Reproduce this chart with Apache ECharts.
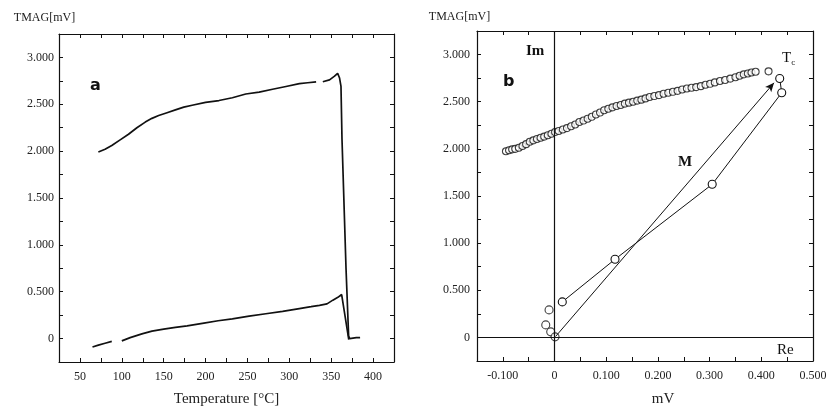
<!DOCTYPE html>
<html>

<head>
	<meta charset="utf-8">
	<title>TMAG</title>
	<script type="text/javascript" src="https://cdn.jsdelivr.net/npm/echarts@6/dist/echarts.min.js"></script>
</head>

<body style="margin:0;background:#fff;">
	<div id="main" style="width: 833px;height:406px;"></div>
	<script type="text/javascript">
		// panel a: TMAG against temperature, upper and lower curve (null = gap in trace)
		var upperT = [72, 80, 88, 98, 108, 118, 128, 136, 144, 154, 164, 174, 184, 200, 216, 232, 248, 264, 280, 296, 312, 322, 332, 336, 340, 348, 354, 357.7, 360, 361.7, 362.9, 367.7, 370.8, 372, 376, 380, 384.5];
		var upperMag = [1.99, 2.02, 2.06, 2.12, 2.18, 2.25, 2.31, 2.35, 2.38, 2.41, 2.44, 2.47, 2.49, 2.52, 2.54, 2.57, 2.61, 2.63, 2.66, 2.69, 2.72, 2.73, 2.74, null, 2.74, 2.76, 2.80, 2.83, 2.78, 2.69, 2.13, 0.75, 0.03, 0.0, 0.005, 0.01, 0.01];
		var lowerT = [65, 72, 80, 88, 94, 100, 110, 124, 136, 150, 164, 178, 198, 215, 232, 252, 272, 292, 312, 326, 336, 345, 352, 358, 362.5, 371];
		var lowerMag = [-0.09, -0.07, -0.05, -0.03, null, -0.025, 0.01, 0.05, 0.08, 0.10, 0.12, 0.135, 0.165, 0.19, 0.21, 0.24, 0.265, 0.29, 0.32, 0.34, 0.355, 0.37, 0.41, 0.44, 0.47, -0.01];

		// panel b: dense circles (Re, Im)
		var denseRe = [-0.094, -0.088, -0.082, -0.076, -0.069, -0.062, -0.055, -0.048, -0.041, -0.034, -0.027, -0.020, -0.013, -0.006, 0.001, 0.008, 0.016, 0.024, 0.032, 0.040, 0.048, 0.056, 0.064, 0.072, 0.080, 0.088, 0.096, 0.104, 0.112, 0.120, 0.128, 0.136, 0.144, 0.152, 0.160, 0.168, 0.176, 0.184, 0.193, 0.202, 0.211, 0.220, 0.229, 0.238, 0.247, 0.256, 0.265, 0.274, 0.283, 0.292, 0.301, 0.310, 0.320, 0.330, 0.340, 0.350, 0.358, 0.366, 0.374, 0.381, 0.389, 0.414];
		var denseIm = [1.975, 1.985, 1.995, 2.000, 2.012, 2.030, 2.050, 2.075, 2.090, 2.105, 2.118, 2.130, 2.145, 2.160, 2.178, 2.190, 2.205, 2.220, 2.240, 2.258, 2.285, 2.300, 2.320, 2.340, 2.365, 2.385, 2.410, 2.425, 2.440, 2.455, 2.465, 2.480, 2.490, 2.500, 2.512, 2.522, 2.535, 2.550, 2.560, 2.570, 2.585, 2.595, 2.605, 2.615, 2.630, 2.640, 2.648, 2.655, 2.665, 2.680, 2.690, 2.705, 2.720, 2.730, 2.745, 2.760, 2.775, 2.790, 2.800, 2.810, 2.818, 2.822];
		// connected circles
		var pathRe = [0.015, 0.117, 0.305, 0.4395, 0.4356];
		var pathIm = [0.377, 0.829, 1.624, 2.595, 2.747];
		// loose circles near the origin
		var looseRe = [-0.0106, -0.017, -0.0074, 0.001];
		var looseIm = [0.292, 0.133, 0.059, 0.006];
		// arrow M from origin to Tc
		var arrowFrom = [0.002, 0.01];
		var arrowTo = [0.4246, 2.70];

		function pairs(xs, ys) {
			return xs.map(function (x, i) {
				return [x, ys[i] === null ? '-' : ys[i]];
			});
		}

		var serif = '"Liberation Serif", "DejaVu Serif", serif';
		var ink = '#111';
		var labelStyle = { fontFamily: serif, fontSize: 12, color: '#222' };

		function magLabel(v) {
			var r = Math.round(v * 1000);
			if (r % 500 !== 0) return '';
			return r === 0 ? '0' : (r / 1000).toFixed(3);
		}

		function tickStyle() {
			return { show: true, inside: true, length: 4, lineStyle: { color: ink, width: 1 } };
		}

		function lineStyle() {
			return { show: true, onZero: false, lineStyle: { color: ink, width: 1.2 } };
		}

		function xPair(grid, min, max, step, fmt, name, namePad, nameGap) {
			return [{
				gridIndex: grid, type: 'value', position: 'bottom', min: min, max: max, interval: step,
				axisLine: lineStyle(),
				axisTick: tickStyle(),
				splitLine: { show: false },
				axisLabel: Object.assign({ margin: 9, formatter: fmt }, labelStyle),
				name: name, nameLocation: 'middle', nameGap: nameGap,
				nameTextStyle: { fontFamily: serif, fontSize: 15, color: '#222', padding: namePad }
			}, {
				gridIndex: grid, type: 'value', position: 'top', min: min, max: max, interval: step,
				axisLine: lineStyle(),
				axisTick: tickStyle(),
				splitLine: { show: false },
				axisLabel: { show: false }
			}];
		}

		function yPair(grid, labelMargin, namePad, nameGap) {
			return [{
				gridIndex: grid, type: 'value', position: 'left', min: -0.25, max: 3.25, interval: 0.25,
				axisLine: lineStyle(),
				axisTick: tickStyle(),
				splitLine: { show: false },
				axisLabel: Object.assign({ margin: labelMargin, formatter: magLabel }, labelStyle),
				name: 'TMAG[mV]', nameLocation: 'end', nameGap: nameGap,
				nameTextStyle: { fontFamily: serif, fontSize: 12, color: '#222', padding: namePad }
			}, {
				gridIndex: grid, type: 'value', position: 'right', min: -0.25, max: 3.25, interval: 0.25,
				axisLine: lineStyle(),
				axisTick: tickStyle(),
				splitLine: { show: false },
				axisLabel: { show: false }
			}];
		}

		var xAxes = xPair(0, 25, 425, 25, function (v) {
			return Math.round(v) % 50 === 0 ? String(Math.round(v)) : '';
		}, 'Temperature [°C]', [0, 0, 0, 0], 30).concat(
			xPair(1, -0.15, 0.5, 0.05, function (v) {
				var r = Math.round(v * 1000);
				if (r % 100 !== 0) return '';
				return r === 0 ? '0' : (r / 1000).toFixed(3);
			}, 'mV', [0, 0, 0, 36], 31));

		var yAxes = yPair(0, 5, [0, 29, 0, 0], 10).concat(yPair(1, 7, [0, 35, 0, 0], 8));

		var circle = { color: '#fff', borderColor: ink, borderWidth: 1.1 };

		var option = {
			animation: false,
			backgroundColor: '#fff',
			grid: [
				{ left: 59, top: 34, width: 335, height: 328, outerBoundsMode: 'none', containLabel: false },
				{ left: 477, top: 31, width: 336, height: 330, outerBoundsMode: 'none', containLabel: false }
			],
			xAxis: xAxes,
			yAxis: yAxes,
			graphic: [
				{ type: 'text', left: 90, top: 78, style: { text: 'a', font: 'bold 16px "DejaVu Sans", sans-serif', fill: '#111' } },
				{ type: 'text', left: 503, top: 74, style: { text: 'b', font: 'bold 16px "DejaVu Sans", sans-serif', fill: '#111' } },
				{ type: 'text', left: 526, top: 44, style: { text: 'Im', font: 'bold 15px "Liberation Serif", serif', fill: '#111' } },
				{ type: 'text', left: 678, top: 155, style: { text: 'M', font: 'bold 15px "Liberation Serif", serif', fill: '#111' } },
				{
					type: 'text', left: 782, top: 51, style: {
						text: '{t|T}{s|c}', fill: '#111',
						rich: {
							t: { fontFamily: serif, fontSize: 15, color: '#111' },
							s: { fontFamily: serif, fontSize: 9, color: '#111', padding: [8, 0, 0, 0] }
						}
					}
				},
				{ type: 'text', left: 777, top: 343, style: { text: 'Re', font: '15px "Liberation Serif", serif', fill: '#111' } }
			],
			series: [
				{
					type: 'line', xAxisIndex: 0, yAxisIndex: 0, showSymbol: false, symbol: 'none',
					data: pairs(upperT, upperMag),
					lineStyle: { color: ink, width: 1.7 }
				},
				{
					type: 'line', xAxisIndex: 0, yAxisIndex: 0, showSymbol: false, symbol: 'none',
					data: pairs(lowerT, lowerMag),
					lineStyle: { color: ink, width: 1.7 }
				},
				{
					type: 'line', xAxisIndex: 2, yAxisIndex: 2, symbol: 'none',
					data: [],
					markLine: {
						silent: true, symbol: ['none', 'none'], label: { show: false },
						lineStyle: { color: ink, width: 1.2, type: 'solid' },
						data: [{ xAxis: 0 }, { yAxis: 0 }]
					}
				},
				{
					type: 'line', xAxisIndex: 2, yAxisIndex: 2, symbol: 'none',
					data: [],
					markLine: {
						silent: true, symbol: ['none', 'arrow'], symbolSize: [6, 9], label: { show: false },
						lineStyle: { color: ink, width: 1, type: 'solid' },
						data: [[{ coord: arrowFrom }, { coord: arrowTo }]]
					}
				},
				{
					type: 'line', xAxisIndex: 2, yAxisIndex: 2, symbol: 'circle', symbolSize: 8, showSymbol: true,
					data: pairs(pathRe, pathIm),
					lineStyle: { color: ink, width: 1 },
					itemStyle: circle
				},
				{
					type: 'scatter', xAxisIndex: 2, yAxisIndex: 2, symbol: 'circle', symbolSize: 8,
					data: pairs(looseRe, looseIm),
					itemStyle: circle
				},
				{
					type: 'scatter', xAxisIndex: 2, yAxisIndex: 2, symbol: 'circle', symbolSize: 7,
					data: pairs(denseRe, denseIm),
					itemStyle: circle
				}
			]
		};

		var myChart = echarts.init(document.getElementById('main'));
		myChart.setOption(option);
	</script>
</body>

</html>
